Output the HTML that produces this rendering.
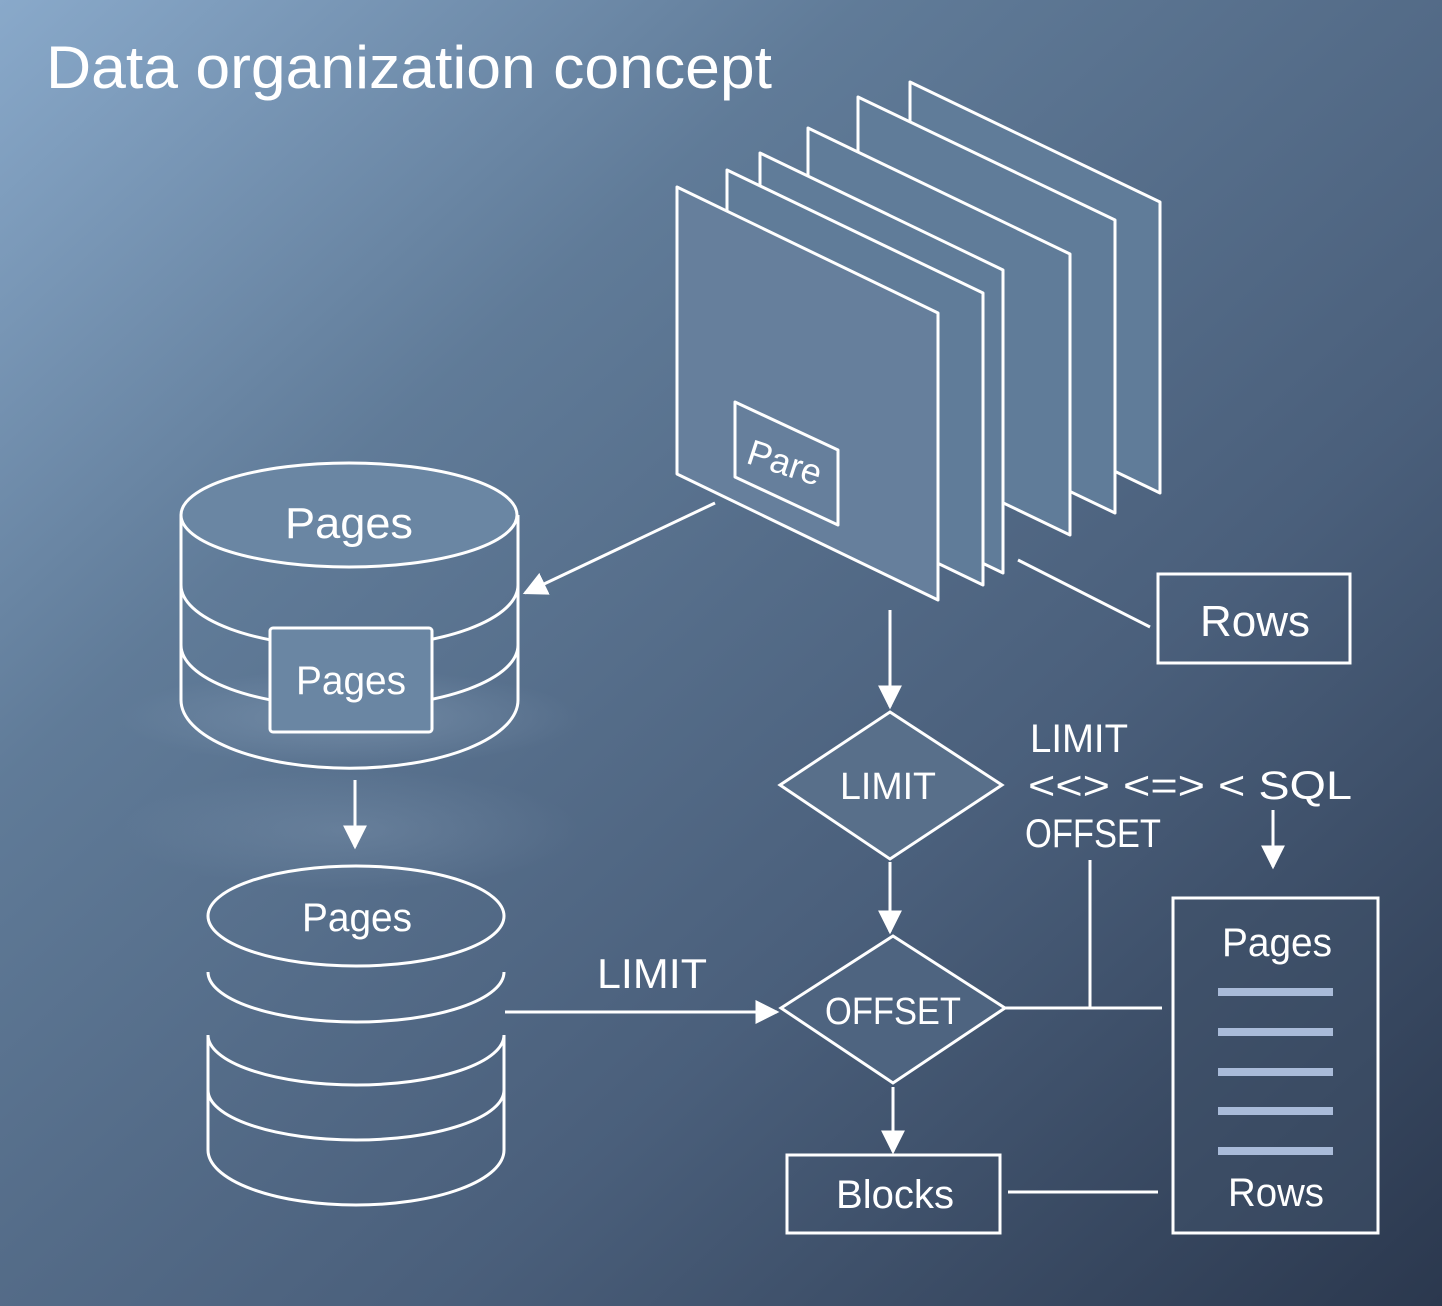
<!DOCTYPE html>
<html><head><meta charset="utf-8"><style>
html,body{margin:0;padding:0;width:1442px;height:1306px;overflow:hidden}
svg{display:block}
text{font-family:"Liberation Sans",sans-serif;fill:#fff}
</style></head><body>
<svg width="1442" height="1306" viewBox="0 0 1442 1306" xmlns="http://www.w3.org/2000/svg">
<defs>
<linearGradient id="bg" x1="0" y1="0" x2="1" y2="1">
<stop offset="0" stop-color="#89a9ca"/>
<stop offset="0.3" stop-color="#607b98"/>
<stop offset="0.65" stop-color="#4a5f7b"/>
<stop offset="1" stop-color="#2b384e"/>
</linearGradient>
<radialGradient id="glow" cx="0.5" cy="0.5" r="0.5">
<stop offset="0" stop-color="#8fa6bf" stop-opacity="0.45"/>
<stop offset="1" stop-color="#8fa6bf" stop-opacity="0"/>
</radialGradient>
<marker id="ah" viewBox="0 0 10 10" refX="9" refY="5" markerWidth="24" markerHeight="24" orient="auto" markerUnits="userSpaceOnUse">
<path d="M0,0 L10,5 L0,10 z" fill="#fff"/>
</marker>
</defs>
<rect width="1442" height="1306" fill="url(#bg)"/>
<text x="46" y="88" font-size="60" textLength="726" lengthAdjust="spacingAndGlyphs">Data organization concept</text>

<g fill="#607c99" stroke="#fff" stroke-width="3" stroke-linejoin="round">
<polygon points="910,82 1160,202 1160,493 910,373"/>
<polygon points="858,97 1115,220 1115,513 858,390"/>
<polygon points="808,128 1070,254 1070,535 808,409"/>
<polygon points="760,153 1003,270 1003,573 760,456"/>
<polygon points="727,170 983,293 983,585 727,462"/>
<polygon points="677,187 938,313 938,600 677,474" fill="#667f9c"/>
<polygon points="735,402 838,450 838,525 735,477" fill="none"/>
</g>
<text x="785" y="475" font-size="36" text-anchor="middle" transform="rotate(18 785 462)">Pare</text>

<g stroke="#fff" stroke-width="3" fill="none">
<line x1="715" y1="503" x2="525" y2="593" marker-end="url(#ah)"/>
<line x1="1018" y1="560" x2="1150" y2="627"/>
<rect x="1158" y="574" width="192" height="89"/>
</g>
<text x="1255" y="636" font-size="44" text-anchor="middle" textLength="110" lengthAdjust="spacingAndGlyphs">Rows</text>

<ellipse cx="350" cy="718" rx="230" ry="48" fill="url(#glow)"/>
<ellipse cx="350" cy="830" rx="230" ry="60" fill="url(#glow)" opacity="0.6"/>

<g stroke="#fff" stroke-width="3" fill="none">
<path d="M181,515 L181,700 A168,68 0 0 0 518,700 L518,515"/>
<path d="M181,585 A168,62 0 0 0 518,585"/>
<path d="M181,645 A168,62 0 0 0 518,645"/>
<ellipse cx="349" cy="515" rx="168" ry="52" fill="#6a86a3"/>
<rect x="270" y="628" width="162" height="104" rx="3" fill="#6a86a3"/>
<line x1="355" y1="780" x2="355" y2="847" marker-end="url(#ah)"/>
<ellipse cx="356" cy="916" rx="148" ry="50"/>
<path d="M208,972 A148,50 0 0 0 504,972"/>
<path d="M208,1035 L208,1150 A148,55 0 0 0 504,1150 L504,1035"/>
<path d="M208,1035 A148,50 0 0 0 504,1035"/>
<path d="M208,1090 A148,50 0 0 0 504,1090"/>
</g>
<text x="349" y="538" font-size="44" text-anchor="middle" textLength="128" lengthAdjust="spacingAndGlyphs">Pages</text>
<text x="351" y="694" font-size="40" text-anchor="middle" textLength="110" lengthAdjust="spacingAndGlyphs">Pages</text>
<text x="357" y="931" font-size="40" text-anchor="middle" textLength="110" lengthAdjust="spacingAndGlyphs">Pages</text>

<g stroke="#fff" stroke-width="3" fill="none">
<line x1="505" y1="1012" x2="777" y2="1012" marker-end="url(#ah)"/>
<line x1="890" y1="610" x2="890" y2="707" marker-end="url(#ah)"/>
<polygon points="890,712 1002,785 890,859 780,785" fill="#586f8a"/>
<line x1="890" y1="862" x2="890" y2="932" marker-end="url(#ah)"/>
<polygon points="893,936 1005,1008 893,1083 781,1008" fill="#4e6480"/>
<line x1="893" y1="1087" x2="893" y2="1152" marker-end="url(#ah)"/>
<rect x="787" y="1155" width="213" height="78"/>
<line x1="1008" y1="1192" x2="1158" y2="1192"/>
<line x1="1005" y1="1008" x2="1162" y2="1008"/>
<line x1="1090" y1="860" x2="1090" y2="1008"/>
<line x1="1273" y1="810" x2="1273" y2="867" marker-end="url(#ah)"/>
<rect x="1173" y="898" width="205" height="335" fill="#3f5169" fill-opacity="0.5"/>
</g>
<text x="652" y="988" font-size="42" text-anchor="middle" textLength="110" lengthAdjust="spacingAndGlyphs">LIMIT</text>
<text x="888" y="799" font-size="38" text-anchor="middle" textLength="96" lengthAdjust="spacingAndGlyphs">LIMIT</text>
<text x="893" y="1024" font-size="38" text-anchor="middle" textLength="136" lengthAdjust="spacingAndGlyphs">OFFSET</text>
<text x="895" y="1208" font-size="40" text-anchor="middle" textLength="118" lengthAdjust="spacingAndGlyphs">Blocks</text>
<text x="1030" y="752" font-size="40" textLength="98" lengthAdjust="spacingAndGlyphs">LIMIT</text>
<text x="1028" y="799" font-size="40" textLength="324" lengthAdjust="spacingAndGlyphs">&lt;&lt;&gt; &lt;=&gt; &lt; SQL</text>
<text x="1025" y="847" font-size="40" textLength="136" lengthAdjust="spacingAndGlyphs">OFFSET</text>
<text x="1277" y="956" font-size="40" text-anchor="middle" textLength="110" lengthAdjust="spacingAndGlyphs">Pages</text>
<g stroke="#a9bbd9" stroke-width="8">
<line x1="1218" y1="992" x2="1333" y2="992"/>
<line x1="1218" y1="1032" x2="1333" y2="1032"/>
<line x1="1218" y1="1072" x2="1333" y2="1072"/>
<line x1="1218" y1="1111" x2="1333" y2="1111"/>
<line x1="1218" y1="1151" x2="1333" y2="1151"/>
</g>
<text x="1276" y="1206" font-size="40" text-anchor="middle" textLength="96" lengthAdjust="spacingAndGlyphs">Rows</text>
</svg>
</body></html>
